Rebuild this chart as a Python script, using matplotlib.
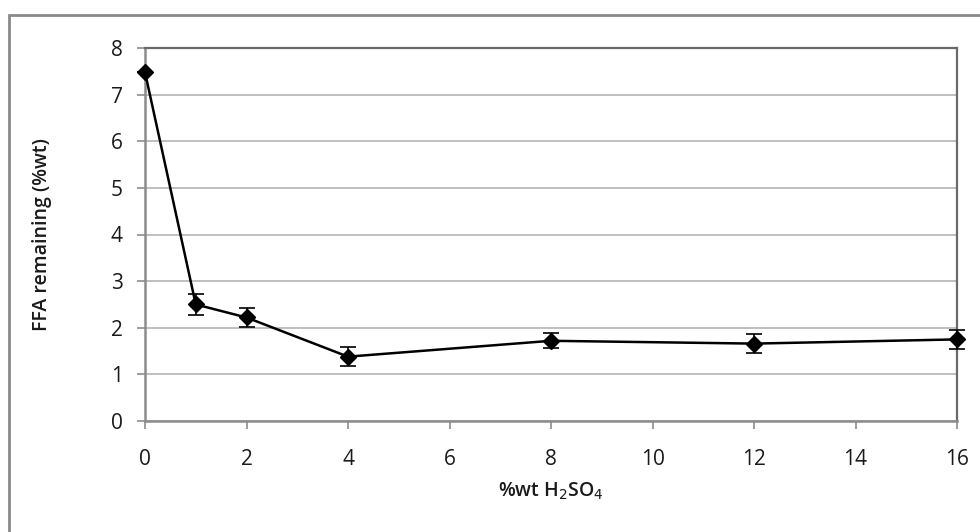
import matplotlib
matplotlib.use("Agg")
import matplotlib.pyplot as plt
from matplotlib.patches import Rectangle

# Data
acid_wt = [0, 1, 2, 4, 8, 12, 16]
ffa_remaining = [7.48, 2.50, 2.22, 1.38, 1.72, 1.66, 1.75]
ffa_error = [0.0, 0.23, 0.21, 0.20, 0.16, 0.20, 0.20]
x_ticks = [0, 2, 4, 6, 8, 10, 12, 14, 16]
y_ticks = [0, 1, 2, 3, 4, 5, 6, 7, 8]

plt.rcParams['font.family'] = ['Open Sans', 'DejaVu Sans']

fig = plt.figure(figsize=(9.8, 5.32), dpi=100)
fig.patch.set_facecolor('white')
ax = fig.add_axes([145/980, 1 - 421/532, (957 - 145)/980, (421 - 48)/532])

# Outer chart frame (left/top visible)
fig.patches.append(Rectangle((9/980, -0.05), 1.2, 1 - 15/532 + 0.05,
                             transform=fig.transFigure, fill=False,
                             edgecolor='#8a8a8a', linewidth=2.0, zorder=0))

ax.errorbar(acid_wt, ffa_remaining, yerr=ffa_error, color='black',
            marker='D', markersize=8, linewidth=1.8, capsize=6,
            elinewidth=1.2, capthick=1.2, zorder=5, clip_on=False)

ax.set_xlim(0, 16)
ax.set_ylim(0, 8)
ax.set_xticks(x_ticks)
ax.set_yticks(y_ticks)
ax.grid(axis='y', color='#b4b4b4', linewidth=1.2)
ax.set_axisbelow(True)

for side in ['left', 'bottom']:
    ax.spines[side].set_color('#8c8c8c')
    ax.spines[side].set_linewidth(1.8)
for side in ['top', 'right']:
    ax.spines[side].set_color('#6a6a6a')
    ax.spines[side].set_linewidth(1.6)

ax.tick_params(axis='both', direction='out', length=6, width=1.2,
               color='#8c8c8c', labelsize=15, labelcolor='#1a1a1a')
ax.tick_params(axis='x', pad=14)
ax.tick_params(axis='y', pad=10)
for lbl in ax.get_xticklabels() + ax.get_yticklabels():
    lbl.set_fontweight('medium')

ax.set_xlabel('%wt H$_2$SO$_4$', fontsize=14, fontweight='semibold',
              color='#1a1a1a', labelpad=8)
ax.set_ylabel('FFA remaining (%wt)', fontsize=14, fontweight='semibold',
              color='#1a1a1a', labelpad=42)

fig.savefig('out.png', dpi=100, facecolor='white')
